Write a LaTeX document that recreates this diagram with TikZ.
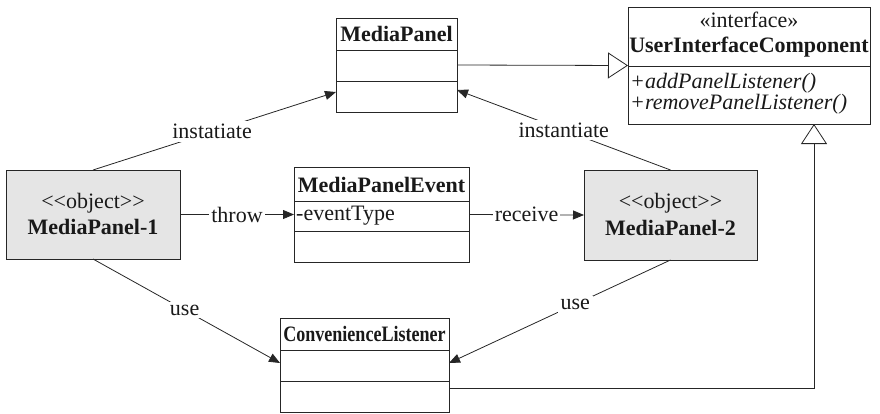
\documentclass[tikz,border=0pt]{standalone}
\usepackage{fontspec}
\setmainfont{Liberation Serif}
\usetikzlibrary{arrows.meta,calc}
\begin{document}
\begin{tikzpicture}[x=1pt,y=-1pt,
  box/.style={draw=black!85, line width=1pt, inner sep=0pt, outer sep=0pt, anchor=north west, fill=white},
  obj/.style={box, fill=black!10},
  txt/.style={inner sep=0pt, font=\fontsize{22}{24}\selectfont, text=black!90},
  btxt/.style={txt, font=\fontsize{22}{24}\selectfont\bfseries},
  itxt/.style={txt, anchor=west, font=\fontsize{22}{24}\selectfont\itshape},
  div/.style={draw=black!85, line width=1pt},
  arr/.style={draw=black!85, line width=0.8pt, -{Triangle[length=11pt,width=9pt]}},
  gen/.style={draw=black!85, line width=0.8pt, -{Triangle[open,length=20pt,width=26pt,fill=white]}},
  lbl/.style={txt, fill=white, inner sep=3pt}
]
\useasboundingbox (0,0) rectangle (880,413);

% MediaPanel
\node[box, minimum width=121pt, minimum height=94pt] (mp) at (336,18) {};
\node[btxt] (mpT) at (396.5,34) {MediaPanel};
\draw[div] (mp.north west) ++(0,32) -- ++(121,0);
\draw[div] (mp.north west) ++(0,63) -- ++(121,0);

% UserInterfaceComponent
\node[box, minimum width=242pt, minimum height=117pt] (uic) at (628,7) {};
\node[txt] (uicS) at (749,20) {«interface»};
\node[btxt] (uicT) at (749,47) {UserInterfaceComponent};
\draw[div] (uic.north west) ++(0,59) -- ++(242,0);
\node[itxt] (uicM1) at (630,83) {+addPanelListener()};
\node[itxt] (uicM2) at (630,104) {+removePanelListener()};

% MediaPanelEvent
\node[box, minimum width=175pt, minimum height=95pt] (mpe) at (294,167) {};
\node[btxt] (mpeT) at (381.5,185) {MediaPanelEvent};
\draw[div] (mpe.north west) ++(0,34) -- ++(175,0);
\draw[div] (mpe.north west) ++(0,64) -- ++(175,0);
\node[txt, anchor=west] (mpeA) at (296,216) {-eventType};

% MediaPanel-1
\node[obj, minimum width=174pt, minimum height=89pt] (mp1) at (6,170) {};
\node[txt] (mp1S) at (93,203) {<{}<object>{}>};
\node[btxt] (mp1T) at (93,227) {MediaPanel-1};

% MediaPanel-2
\node[obj, minimum width=173pt, minimum height=90pt] (mp2) at (584,170) {};
\node[txt] (mp2S) at (670.5,203) {<{}<object>{}>};
\node[btxt] (mp2T) at (670.5,228) {MediaPanel-2};

% ConvenienceListener
\node[box, minimum width=169pt, minimum height=94pt] (cl) at (280,318) {};
\node[btxt] (clT) at (364.5,334) {\scalebox{0.82}[1]{ConvenienceListener}};
\draw[div] (cl.north west) ++(0,32) -- ++(169,0);
\draw[div] (cl.north west) ++(0,63) -- ++(169,0);

% anchor points
\coordinate (mpL) at (336,92);
\coordinate (mpR) at (457,90);
\coordinate (clL) at (280,363);
\coordinate (clR) at (449,363);
\coordinate (clRb) at (449,388);
\coordinate (uicB) at (814,124);

% connectors
\draw[gen] (mp.east) -- (uic.west);
\draw[gen] (clRb) -| (uicB);
\draw[arr] (mp1.north) -- node[lbl, pos=0.49] (l1) {instatiate} (mpL);
\draw[arr] (mp2.north) -- node[lbl, pos=0.5] (l2) {instantiate} (mpR);
\draw[arr] (mp1.east) -- node[lbl, inner xsep=2pt] (l3) {throw} (mpe.west);
\draw[arr] (mpe.east) -- node[lbl, inner xsep=2pt] (l4) {receive} (mp2.west);
\draw[arr] (mp1.south) -- node[lbl, pos=0.49] (l5) {use} (clL);
\draw[arr] (mp2.south) -- node[lbl, pos=0.43] (l6) {use} (clR);
\end{tikzpicture}
\end{document}
